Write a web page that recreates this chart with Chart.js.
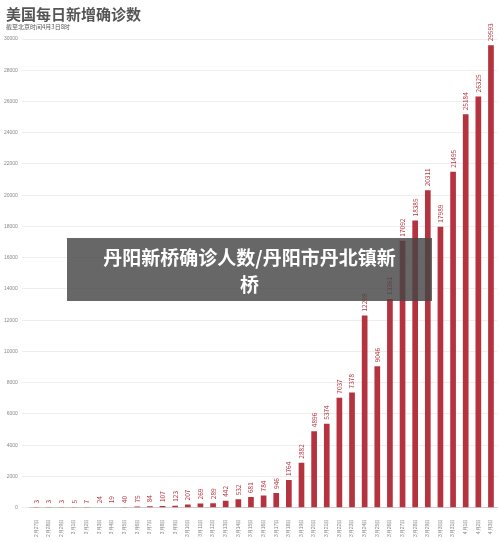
<!DOCTYPE html>
<html><head><meta charset="utf-8">
<script src="https://cdn.jsdelivr.net/npm/chart.js@4"></script>
<style>
body{margin:0;background:#fff;font-family:"Noto Sans CJK SC",sans-serif;}
#wrap{position:relative;width:500px;height:542px;}
#t{position:absolute;left:6px;top:3px;font-size:15px;font-weight:bold;color:#555;}
#s{position:absolute;left:6px;top:22px;font-size:6px;color:#555;}
#ov{position:absolute;left:67px;top:238px;width:365px;height:63px;background:rgba(70,70,70,0.82);color:#fff;font-size:19px;font-weight:bold;text-align:center;line-height:27px;padding-top:5px;box-sizing:border-box;}
#c{position:absolute;left:0;top:0;}
</style></head><body>
<div id="wrap"><canvas id="c" width="500" height="542"></canvas>
<div id="t">美国每日新增确诊数</div><div id="s">截至北京时间4月3日8时</div>
<div id="ov">丹阳新桥确诊人数/丹阳市丹北镇新<br>桥</div></div>
<script>
const categories=["2月27日","2月28日","2月29日","3月1日","3月2日","3月3日","3月4日","3月5日","3月6日","3月7日","3月8日","3月9日","3月10日","3月11日","3月12日","3月13日","3月14日","3月15日","3月16日","3月17日","3月18日","3月19日","3月20日","3月21日","3月22日","3月23日","3月24日","3月25日","3月26日","3月27日","3月28日","3月29日","3月30日","3月31日","4月1日","4月2日","4月3日"];
const values=[3,3,3,5,7,24,19,40,75,84,107,123,207,269,289,442,532,681,784,946,1764,2882,4896,5374,7037,7378,12298,9046,13361,17092,18385,20311,17989,21495,25184,26325,29593];
const yTicks=[0,2000,4000,6000,8000,10000,12000,14000,16000,18000,20000,22000,24000,26000,28000,30000];
const labelPlugin={id:'lbl',afterDatasetsDraw(ch){const ctx=ch.ctx;const m=ch.getDatasetMeta(0);ctx.save();ctx.fillStyle='#b5323f';ctx.font='6.5px "Noto Sans CJK SC"';ctx.textAlign='left';ctx.textBaseline='middle';
m.data.forEach((b,i)=>{ctx.save();ctx.translate(b.x,b.y-4);ctx.rotate(-Math.PI/2);ctx.fillText(values[i],0,0);ctx.restore();});ctx.restore();}};
new Chart(document.getElementById('c'),{type:'bar',data:{labels:categories,datasets:[{data:values,backgroundColor:'#b5323f',categoryPercentage:0.9,barPercentage:0.5}]},
options:{responsive:false,animation:false,layout:{padding:{top:39,right:2,left:0,bottom:2}},plugins:{legend:{display:false},tooltip:{enabled:false}},
scales:{x:{grid:{display:false},border:{color:'#ccc'},ticks:{autoSkip:false,maxRotation:90,minRotation:90,color:'#888',font:{size:5}}},
y:{min:0,max:30000,afterBuildTicks(a){a.ticks=yTicks.map(v=>({value:v}));},grid:{color:'#eee'},border:{display:false},ticks:{color:'#888',font:{size:5},padding:4,callback:v=>String(v)}}}},plugins:[labelPlugin]});
</script></body></html>
